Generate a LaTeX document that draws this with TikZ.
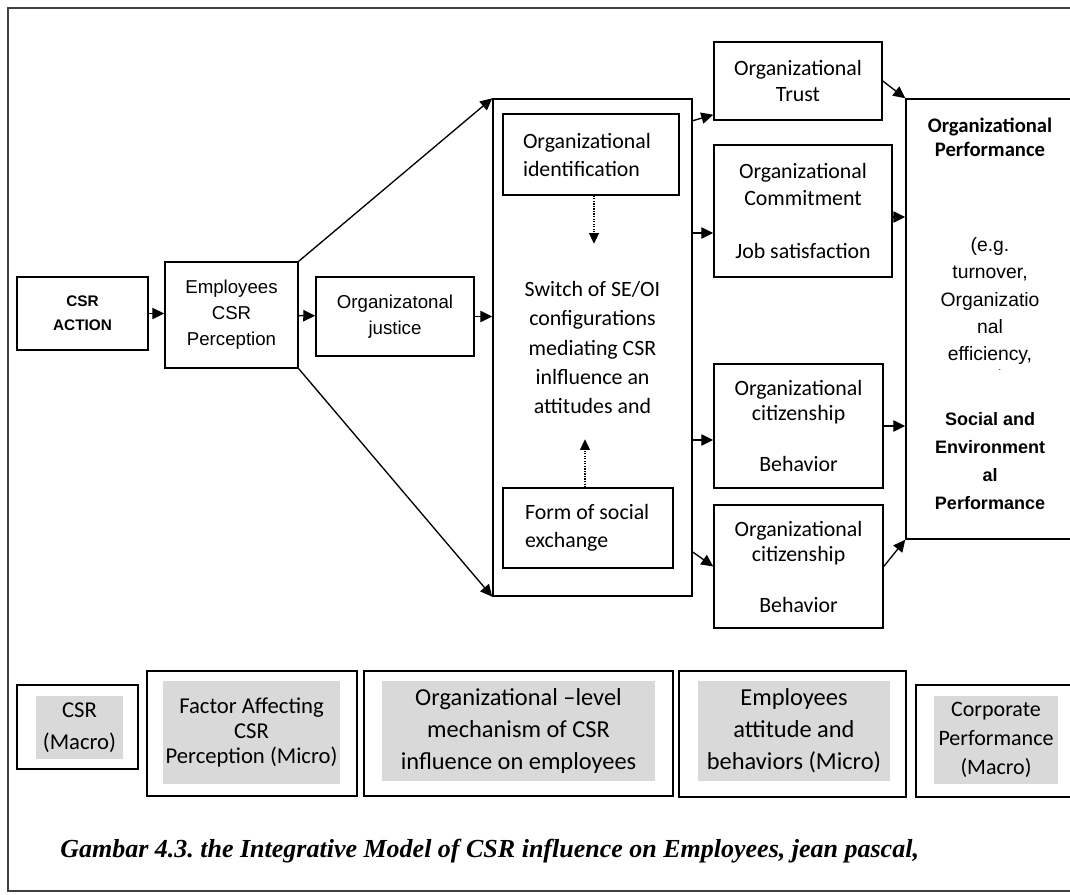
\documentclass[tikz,border=0pt]{standalone}
\usepackage{fontspec}
\setmainfont{Liberation Serif}
\newfontfamily\carl{Carlito}
\newfontfamily\arial{Liberation Sans}
\usepackage{tikz}
\usetikzlibrary{arrows.meta}
\usetikzlibrary{calc}
\definecolor{panelgrey}{HTML}{D9D9D9}
\definecolor{framegrey}{HTML}{404040}
\frenchspacing

\begin{document}
\begin{tikzpicture}[x=0.75pt, y=-0.75pt,
  box/.style 2 args={draw, line width=1.1pt, minimum width=#1*0.75pt, minimum height=#2*0.75pt, inner sep=0pt, align=center},
  greybox/.style 2 args={fill=panelgrey, minimum width=#1*0.75pt, minimum height=#2*0.75pt, inner sep=0pt, align=center},
  cal/.style={font=\carl\fontsize{16.4}{19}\selectfont},
  ari/.style={font=\arial\fontsize{14}{19.5}\selectfont},
  arr/.style={-{Triangle[length=9pt,width=8.5pt]}, line width=1pt},
  dotarr/.style={-{Triangle[length=8pt,width=7.5pt]}, line width=0.9pt, densely dotted}]

  \useasboundingbox (0,0) rectangle (1070,895);
  \clip (0,0) rectangle (1070,895);
  \draw[framegrey, line width=1.4pt] (8,8) rectangle (1074,891);

  \node[box={131}{73}, font=\arial\bfseries\fontsize{11.5}{18}\selectfont] (act) at (82.5,313.5) {CSR\\ACTION};
  \node[box={133}{106}, ari] (perc) at (231.5,315) {Employees\\CSR\\Perception};
  \node[box={158}{79}, ari] (just) at (395,316.5) {Organizatonal\\justice};
  \node[box={199}{497}, font=\carl\fontsize{16.4}{22}\selectfont] (mid) at (592.5,347.5)
    {Switch of SE/OI\\configurations\\mediating CSR\\inlfluence an\\attitudes and};
  \node[box={176}{81}, font=\carl\fontsize{16.4}{21}\selectfont, align=flush left, text width=102pt] (ident) at (591,154.5)
    {Organizational\\identification};
  \node[box={170}{80}, font=\carl\fontsize{16.4}{21}\selectfont, align=flush left, text width=94.5pt] (form) at (588,528)
    {Form of social\\exchange};

  \node[box={168}{78}, cal] (trust) at (798,81) {Organizational\\Trust};
  \node[box={178}{132}, font=\carl\fontsize{16.4}{20}\selectfont] (commit) at (803,211)
    {Organizational\\Commitment\\[20pt]Job satisfaction};
  \node[box={169}{124}, cal] (cit1) at (798.5,426) {Organizational\\citizenship\\[19pt]Behavior};
  \node[box={169}{123}, cal] (cit2) at (798.5,566.5) {Organizational\\citizenship\\[19pt]Behavior};

  \node[box={175}{440}] (perf) at (993.5,319) {};
  \node[font=\carl\bfseries\fontsize{15.5}{18}\selectfont, align=center] (perfa) at (990,137)
    {Organizational\\Performance};
  \node[font=\arial\fontsize{14.5}{20.3}\selectfont, align=center] (perfb) at (990,301)
    {(e.g.\\turnover,\\Organizatio\\nal\\efficiency,};
  \node[font=\arial\fontsize{7}{8}\selectfont, inner sep=0pt] (perfdot) at (1000,370) {.};
  \node[font=\arial\bfseries\fontsize{13.5}{21}\selectfont, align=center] (perfc) at (990,461.5)
    {Social and\\Environment\\al\\Performance};

  \draw[arr] (act) -- (act -| perc.west);
  \draw[arr] (perc) -- (just);
  \draw[arr] (just) -- (just -| mid.west);
  \draw[arr] (perc.north east) -- (mid.north west);
  \draw[arr] (perc.south east) -- (mid.south west);

  \coordinate (trustin) at ([yshift=4.5pt]trust.south west);
  \coordinate (commitin) at ([yshift=-16.5pt]commit.west);
  \coordinate (cit1in) at ([yshift=-10.5pt]cit1.west);
  \coordinate (cit2out) at ($(mid.east |- cit2.west)+(0,-14.5)$);
  \draw[arr] (mid.east |- trust.south) -- (trustin);
  \draw[arr] (mid.east |- commitin) -- (commitin);
  \draw[arr] (mid.east |- cit1in) -- (cit1in);
  \draw[arr] (cit2out) -- (cit2.west);

  \coordinate (commitout) at ([yshift=-4.5pt]commit.east);
  \draw[arr] (trust.east) -- (perf.north west);
  \draw[arr] (commitout) -- (commitout -| perf.west);
  \draw[arr] (cit1) -- (cit1 -| perf.west);
  \draw[arr] (cit2.east) -- (perf.south west);

  \coordinate (identtip) at ([xshift=2.25pt, yshift=-36pt]ident.south);
  \coordinate (formtip) at ([xshift=-2.25pt, yshift=36pt]form.north);
  \draw[dotarr] (ident.south -| identtip) -- (identtip);
  \draw[dotarr] (form.north -| formtip) -- (formtip);

  \node[box={121}{84}] (csrout) at (77.5,727) {};
  \node[greybox={87}{63}, font=\carl\fontsize{17}{24}\selectfont] (csr) at (79.5,727.5) {CSR\\(Macro)};
  \node[box={210}{125}] (factout) at (252,733.5) {};
  \node[greybox={177}{103}, font=\carl\fontsize{17}{19}\selectfont] (fact) at (251.5,732.5)
    {Factor Affecting\\CSR\\Perception (Micro)};
  \node[box={309}{125}] (mechout) at (518.5,733.5) {};
  \node[greybox={273}{100}, font=\carl\fontsize{18.3}{24}\selectfont] (mech) at (518.5,731)
    {Organizational –level\\mechanism of CSR\\influence on employees};
  \node[box={227}{126}] (empout) at (792.5,734) {};
  \node[greybox={192}{100}, font=\carl\fontsize{18.3}{24}\selectfont] (emp) at (794,731)
    {Employees\\attitude and\\behaviors (Micro)};
  \node[box={165}{112}] (corpout) at (998.5,741) {};
  \node[greybox={124}{88}, font=\carl\fontsize{16.5}{22}\selectfont] (corp) at (996,740)
    {Corporate\\Performance\\(Macro)};

  \node[anchor=base west, inner sep=0pt, font=\bfseries\itshape\fontsize{19.5}{24}\selectfont] (cap) at (60,857)
    {Gambar 4.3. the Integrative Model of CSR influence on Employees, jean pascal,};
\end{tikzpicture}
\end{document}
